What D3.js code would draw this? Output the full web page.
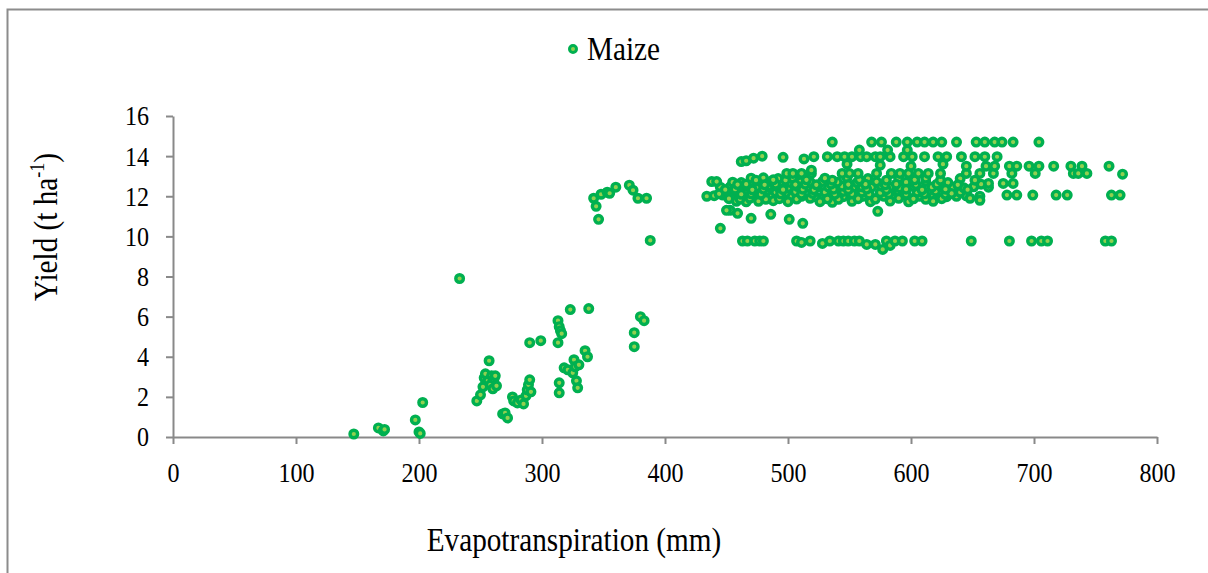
<!DOCTYPE html>
<html>
<head>
<meta charset="utf-8">
<script src="https://cdn.jsdelivr.net/npm/d3@7"></script>
<style>
  body { margin: 0; background: #fff; }
  text { font-family: "Liberation Serif", "Times New Roman", serif; }
</style>
</head>
<body>
<svg id="chart" width="1208" height="573"></svg>
<script>
// tick values
const xTicks = [0, 100, 200, 300, 400, 500, 600, 700, 800];
const yTicks = [0, 2, 4, 6, 8, 10, 12, 14, 16];

// [evapotranspiration mm, yield t/ha]
const lowPoints = [
  [147,0.15],[167,0.45],[171,0.3],[172,0.38],[197,0.85],[200,0.25],[201,0.18],[203,1.72],[233,7.9],
  [247,1.8],[250,2.1],[252,2.5],[253,2.95],[254,3.15],[256,2.8],[257,3.8],[258,2.6],[259,3.05],
  [260,2.4],[261,2.9],[262,3.05],[263,2.55],
  [268,1.15],[270,1.2],[272,0.95],[276,2.0],[277,1.8],[280,1.7],[283,1.85],[285,1.65],[287,2.05],
  [288,2.35],[289,2.6],[290,2.85],[291,2.25],[290,4.7],[299,4.8],
  [313,5.8],[314,5.5],[315,5.3],[313,4.7],[316,5.15],[314,2.7],[314,2.2],
  [318,3.45],[321,3.35],[323,6.35],[325,3.2],[326,3.85],[327,3.5],[328,2.8],[329,2.45],[330,3.6],
  [335,4.3],[337,4.0],[338,6.4],[375,5.2],[375,4.5],[380,6.0],[383,5.8]
];

const risePoints = [
  [342,11.9],[344,11.5],[346,10.85],[348,12.1],[353,12.2],[355,12.15],[360,12.45],[371,12.55],
  [374,12.3],[378,11.9],[385,11.9],[388,9.8]
];

const lowerRowPoints = [
  [463,9.77],[467,9.77],[473,9.77],[477,9.77],[480,9.77],[507,9.77],[511,9.7],[518,9.77],[528,9.65],
  [534,9.77],[541,9.77],[545,9.77],[549,9.77],[554,9.77],[558,9.77],[564,9.6],[571,9.6],[577,9.35],
  [580,9.77],[583,9.55],[587,9.77],[593,9.77],[603,9.77],[609,9.77],[649,9.77],[680,9.77],[698,9.77],
  [706,9.77],[711,9.77],[758,9.77],[763,9.77],
  [445,10.4],[459,11.15],[453,11.3],[470,10.9],[486,11.1],[501,10.85],[512,10.65],[573,11.25],[450,11.3]
];

const denseBandPoints = [
  [434,12.0],[440,12.03],[447,12.06],[455,12.0],[463,11.98],[471,12.0],[479,12.02],[487,12.0],[495,11.97],
  [503,12.0],[511,12.0],[522,11.98],[529,12.0],[537,12.02],[545,11.98],[553,12.0],[561,12.0],[567,11.97],
  [578,12.0],[586,12.02],[597,11.98],[607,12.0],[618,12.0],[629,11.98],[637,12.0],[645,12.02],[656,12.0],
  [678,12.06],[686,12.06],[699,12.06],[718,12.06],[727,12.06],[763,12.06],[770,12.06],
  [458,11.75],[466,11.72],[476,11.75],[488,11.78],[500,11.73],[526,11.73],[536,11.7],[552,11.75],
  [567,11.73],[583,11.76],[598,11.72],[618,11.75],[656,11.8],
  [450,12.2],[458,12.22],[466,12.18],[474,12.2],[482,12.25],[490,12.2],[498,12.18],[506,12.22],
  [530,12.2],[545,12.24],[560,12.2],[575,12.18],[590,12.22],[605,12.2],[620,12.25],[640,12.2],
  [445,12.45],[453,12.47],[460,12.42],[468,12.48],[476,12.45],[484,12.5],[492,12.45],[500,12.42],
  [508,12.48],[516,12.45],[524,12.47],[533,12.45],[544,12.5],[553,12.43],[560,12.47],[568,12.45],
  [576,12.5],[583,12.45],[591,12.42],[602,12.48],[617,12.45],[624,12.5],[634,12.45],[643,12.42],
  [651,12.47],[663,12.45],
  [438,12.73],[442,12.73],[455,12.7],[462,12.68],[470,12.72],[478,12.7],[486,12.74],[494,12.7],
  [502,12.68],[510,12.72],[518,12.7],[528,12.73],[540,12.7],[556,12.68],[572,12.72],[596,12.7],
  [612,12.73],[630,12.68],[663,12.64],[675,12.64],[683,12.64],
  [470,12.9],[480,12.92],[492,12.88],[504,12.9],[530,12.9],[548,12.92],[565,12.88],[590,12.9],
  [612,12.9],[640,12.88]
];

const fillBandPoints = [
  [452,11.88],[461,11.86],[469,11.9],[482,11.85],[493,11.88],[507,11.86],[518,11.9],[532,11.87],
  [541,11.85],[557,11.88],[571,11.86],[590,11.9],[602,11.87],[612,11.85],[625,11.88],[648,11.9],
  [444,12.12],[462,12.1],[470,12.12],[478,12.1],[494,12.12],[511,12.1],[520,12.14],[538,12.1],
  [552,12.12],[566,12.1],[582,12.13],[596,12.1],[611,12.12],[628,12.1],[633,12.14],
  [449,12.33],[457,12.35],[471,12.32],[480,12.36],[496,12.33],[512,12.35],[521,12.32],[537,12.35],
  [549,12.33],[564,12.36],[580,12.33],[596,12.35],[609,12.32],[628,12.35],[646,12.33],
  [459,12.58],[466,12.6],[481,12.57],[490,12.6],[506,12.58],[514,12.6],[523,12.57],[535,12.6],
  [549,12.58],[563,12.6],[579,12.57],[588,12.6],[604,12.58],[621,12.6],[638,12.57],[657,12.6],
  [474,12.8],[488,12.82],[498,12.8],[515,12.82],[536,12.8],[558,12.82],[580,12.8],[603,12.82],
  [624,12.8],[652,12.8]
];

const upperRowPoints = [
  [499,13.14],[504,13.14],[511,13.14],[519,13.14],[544,13.14],[550,13.14],[557,13.14],[572,13.14],
  [584,13.14],[591,13.14],[598,13.14],[606,13.14],[614,13.14],[624,13.14],[645,13.14],[656,13.14],
  [667,13.14],[682,13.14],[701,13.14],[732,13.14],[736,13.14],[743,13.14],[772,13.1],
  [661,13.5],[668,13.5],[680,13.5],[686,13.5],[696,13.5],[704,13.5],[716,13.5],[730,13.5],[739,13.5],
  [761,13.5],[519,13.3],[548,13.6],[575,13.55],[600,13.5],[626,13.6],[645,13.5],
  [462,13.73],[466,13.77],[472,13.9],[479,14.0],[496,13.94],[513,13.86],[521,13.97],[532,13.97],
  [540,13.97],[546,13.97],[552,13.97],[559,13.97],[564,13.97],[571,13.97],[575,13.97],[583,13.97],
  [594,13.97],[601,13.97],[611,13.97],[622,13.97],[629,13.97],[641,13.97],[652,13.97],[660,13.97],
  [670,13.97],
  [558,14.3],[581,14.3],[597,14.3],
  [536,14.7],[568,14.7],[576,14.7],[588,14.7],[597,14.7],[605,14.7],[611,14.7],[618,14.7],[625,14.7],
  [637,14.7],[653,14.7],[660,14.7],[668,14.7],[674,14.7],[683,14.7],[704,14.7]
];

const allPoints = lowPoints.concat(risePoints, lowerRowPoints, denseBandPoints, fillBandPoints, upperRowPoints);

const serif = "'Liberation Serif', 'Times New Roman', serif";
const squeeze = 0.86; // text in the picture is narrow and tall
const svg = d3.select("#chart");
const axisColor = "#898989";
const ringColor = "#00B050";
const dotColor = "#92D050";

// outer chart border (cropped at right/bottom)
svg.append("rect")
  .attr("x", 7.5).attr("y", 9.5)
  .attr("width", 1300).attr("height", 700)
  .attr("fill", "none")
  .attr("stroke", "#8c8c8c")
  .attr("stroke-width", 2);

const x = d3.scaleLinear().domain([0, 800]).range([173, 1157]);
const y = d3.scaleLinear().domain([0, 16]).range([437, 116]);

const xAxis = svg.append("g")
  .attr("transform", `translate(0,${y(0)})`)
  .call(d3.axisBottom(x).tickValues(xTicks).tickSize(7).tickPadding(18).tickSizeOuter(0));

const yAxis = svg.append("g")
  .attr("transform", `translate(${x(0)},0)`)
  .call(d3.axisLeft(y).tickValues(yTicks).tickSize(7).tickPadding(17).tickSizeOuter(0));

[xAxis, yAxis].forEach(a => {
  a.attr("font-family", null).attr("font-size", null);
  a.select(".domain").attr("stroke", axisColor).attr("stroke-width", 2);
  a.selectAll(".tick line").attr("stroke", axisColor).attr("stroke-width", 2);
  a.selectAll(".tick text")
    .attr("fill", "#000")
    .attr("font-family", serif)
    .attr("font-size", 28)
    .attr("transform", `scale(${squeeze},1)`);
});
yAxis.selectAll(".tick text").attr("x", -24 / squeeze);

// markers
svg.append("g")
  .selectAll("circle")
  .data(allPoints)
  .join("circle")
  .attr("cx", d => x(d[0]))
  .attr("cy", d => y(d[1]))
  .attr("r", 3.8)
  .attr("fill", dotColor)
  .attr("stroke", ringColor)
  .attr("stroke-width", 3.4);

// legend
svg.append("circle")
  .attr("cx", 573).attr("cy", 49).attr("r", 3.5)
  .attr("fill", dotColor).attr("stroke", ringColor).attr("stroke-width", 3);
svg.append("text")
  .attr("transform", `translate(587,60) scale(${squeeze},1)`)
  .attr("font-family", serif)
  .attr("font-size", 34)
  .text("Maize");

// axis titles
svg.append("text")
  .attr("transform", `translate(574,551) scale(${squeeze},1)`)
  .attr("text-anchor", "middle")
  .attr("font-family", serif)
  .attr("font-size", 34)
  .text("Evapotranspiration (mm)");

const yTitle = svg.append("text")
  .attr("transform", `translate(57,227) rotate(-90) scale(${squeeze},1)`)
  .attr("text-anchor", "middle")
  .attr("font-family", serif)
  .attr("font-size", 34);
yTitle.append("tspan").text("Yield (t ha");
yTitle.append("tspan").attr("dy", -13).attr("font-size", 21).text("-1");
yTitle.append("tspan").attr("dy", 13).text(")");
</script>
</body>
</html>
